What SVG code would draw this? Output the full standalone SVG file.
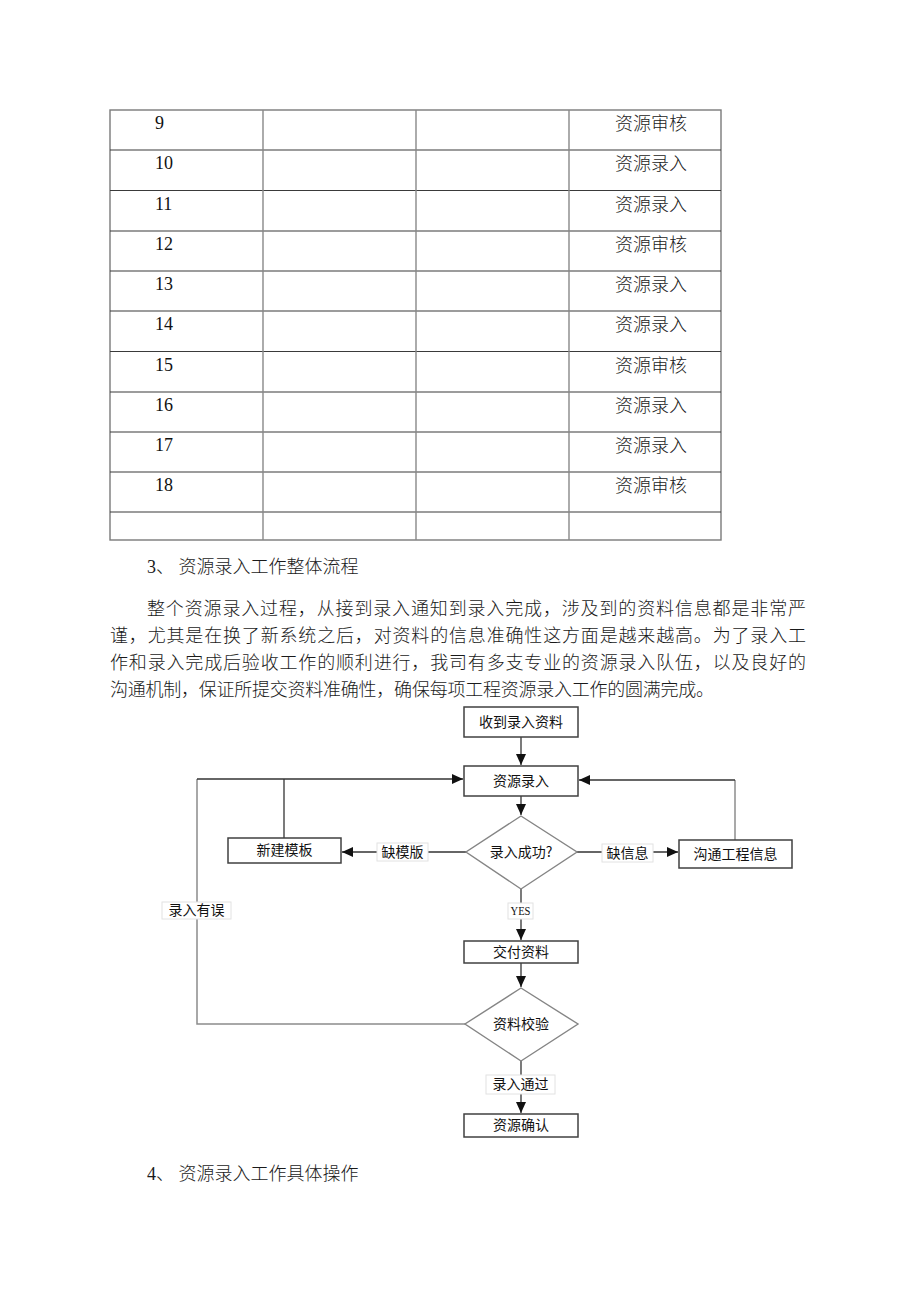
<svg xmlns="http://www.w3.org/2000/svg" width="920" height="1302" viewBox="0 0 920 1302">
<defs>
<style>
.tb{fill:none;stroke:#7a7a7a;stroke-width:1.4}
.th{stroke:#3a3a3a;stroke-width:1.2}
.tv{stroke:#888;stroke-width:1.4}
.num{font-family:"Liberation Serif","Noto Sans CJK SC",serif;font-size:18px;fill:#111}
.cn{font-family:"Liberation Serif","Noto Sans CJK SC",serif;font-size:18px;font-weight:300;fill:#1a1a1a}
.box{fill:#fff;stroke:#404040;stroke-width:1.5}
.dia{fill:#fff;stroke:#858585;stroke-width:1.4}
.ft{font-family:"Noto Sans CJK SC","Liberation Sans",sans-serif;font-size:14px;fill:#111;text-anchor:middle}
.lbl{fill:#fff;stroke:#e2e2e2;stroke-width:1}
.yes{font-family:"Liberation Serif","DejaVu Serif",serif;font-size:12px;fill:#111;text-anchor:middle}
.c{fill:none;stroke:#333;stroke-width:1.3}
.g{fill:none;stroke:#8c8c8c;stroke-width:1.5}
</style>
<marker id="ah" markerUnits="userSpaceOnUse" markerWidth="12" markerHeight="10" refX="11" refY="5" orient="auto">
<path d="M0,0 L11,5 L0,10 Z" fill="#111"/>
</marker>
</defs>

<g id="table">
<rect class="tb" x="110" y="110" width="611" height="430"/>
<g class="th">
<line x1="110" y1="150" x2="721" y2="150"/>
<line x1="110" y1="190.5" x2="721" y2="190.5"/>
<line x1="110" y1="231" x2="721" y2="231"/>
<line x1="110" y1="271" x2="721" y2="271"/>
<line x1="110" y1="311" x2="721" y2="311"/>
<line x1="110" y1="351.5" x2="721" y2="351.5"/>
<line x1="110" y1="392" x2="721" y2="392"/>
<line x1="110" y1="432" x2="721" y2="432"/>
<line x1="110" y1="472" x2="721" y2="472"/>
<line x1="110" y1="512" x2="721" y2="512"/>
</g>
<g class="tv">
<line x1="263" y1="110" x2="263" y2="540"/>
<line x1="416" y1="110" x2="416" y2="540"/>
<line x1="569" y1="110" x2="569" y2="540"/>
</g>
<g class="num">
<text x="155" y="129">9</text>
<text x="155" y="169">10</text>
<text x="155" y="210">11</text>
<text x="155" y="250">12</text>
<text x="155" y="290">13</text>
<text x="155" y="330">14</text>
<text x="155" y="371">15</text>
<text x="155" y="411">16</text>
<text x="155" y="451">17</text>
<text x="155" y="491">18</text>
</g>
<g class="cn">
<text x="615" y="130">资源审核</text>
<text x="615" y="170">资源录入</text>
<text x="615" y="211">资源录入</text>
<text x="615" y="251">资源审核</text>
<text x="615" y="291">资源录入</text>
<text x="615" y="331">资源录入</text>
<text x="615" y="372">资源审核</text>
<text x="615" y="412">资源录入</text>
<text x="615" y="452">资源录入</text>
<text x="615" y="492">资源审核</text>
</g>
</g>

<g id="body-text" class="cn">
<text x="147" y="573">3、 资源录入工作整体流程</text>
<text x="147" y="615" textLength="659" lengthAdjust="spacing">整个资源录入过程，从接到录入通知到录入完成，涉及到的资料信息都是非常严</text>
<text x="110" y="642" textLength="696" lengthAdjust="spacing">谨，尤其是在换了新系统之后，对资料的信息准确性这方面是越来越高。为了录入工</text>
<text x="110" y="669" textLength="696" lengthAdjust="spacing">作和录入完成后验收工作的顺利进行，我司有多支专业的资源录入队伍，以及良好的</text>
<text x="110" y="696" textLength="604" lengthAdjust="spacing">沟通机制，保证所提交资料准确性，确保每项工程资源录入工作的圆满完成。</text>
<text x="147" y="1180">4、 资源录入工作具体操作</text>
</g>

<g id="connectors">
<path class="c" d="M521,737 V765" marker-end="url(#ah)"/>
<path class="c" d="M521,796 V815" marker-end="url(#ah)"/>
<path class="c" d="M466,852 H342" marker-end="url(#ah)"/>
<path class="c" d="M577,852 H678" marker-end="url(#ah)"/>
<path class="g" d="M735,840 V780"/>
<path class="c" d="M735,780 H579" marker-end="url(#ah)"/>
<path class="c" d="M284,838 V779"/>
<path class="g" d="M465,1024 H197 V779"/>
<path class="c" d="M197,779 H463" marker-end="url(#ah)"/>
<path class="c" d="M521,889 V940" marker-end="url(#ah)"/>
<path class="c" d="M521,963 V987" marker-end="url(#ah)"/>
<path class="c" d="M521,1061 V1113" marker-end="url(#ah)"/>
<g id="label-quemuban"><rect class="lbl" x="377" y="843" width="51" height="18"/><text class="ft" x="402.5" y="857">缺模版</text></g>
<g id="label-quexinxi"><rect class="lbl" x="602" y="844" width="51" height="18"/><text class="ft" x="627.5" y="858">缺信息</text></g>
<g id="label-yes"><rect class="lbl" x="508" y="903" width="25" height="16"/><text class="yes" x="520.5" y="915" textLength="20" lengthAdjust="spacingAndGlyphs">YES</text></g>
<g id="label-youwu"><rect class="lbl" x="162" y="902" width="69" height="17"/><text class="ft" x="196.5" y="915">录入有误</text></g>
<g id="label-tongguo"><rect class="lbl" x="486" y="1075" width="69" height="19"/><text class="ft" x="520.5" y="1089">录入通过</text></g>
</g>

<g id="n-shoudao"><rect class="box" x="464" y="707" width="114" height="30"/><text class="ft" x="521" y="727">收到录入资料</text></g>
<g id="n-luru"><rect class="box" x="464" y="766" width="114" height="30"/><text class="ft" x="521" y="786">资源录入</text></g>
<g id="n-chenggong"><polygon class="dia" points="521,816 577,852 521,889 466,852"/><text class="ft" x="521" y="857">录入成功?</text></g>
<g id="n-xinjian"><rect class="box" x="228" y="838" width="113" height="25"/><text class="ft" x="284.5" y="855">新建模板</text></g>
<g id="n-goutong"><rect class="box" x="679" y="840" width="113" height="28"/><text class="ft" x="735.5" y="859">沟通工程信息</text></g>
<g id="n-jiaofu"><rect class="box" x="464" y="941" width="114" height="22"/><text class="ft" x="521" y="957">交付资料</text></g>
<g id="n-jiaoyan"><polygon class="dia" points="521,988 578,1024 521,1061 465,1024"/><text class="ft" x="521" y="1029">资料校验</text></g>
<g id="n-queren"><rect class="box" x="464" y="1114" width="114" height="23"/><text class="ft" x="521" y="1130">资源确认</text></g>
</svg>
